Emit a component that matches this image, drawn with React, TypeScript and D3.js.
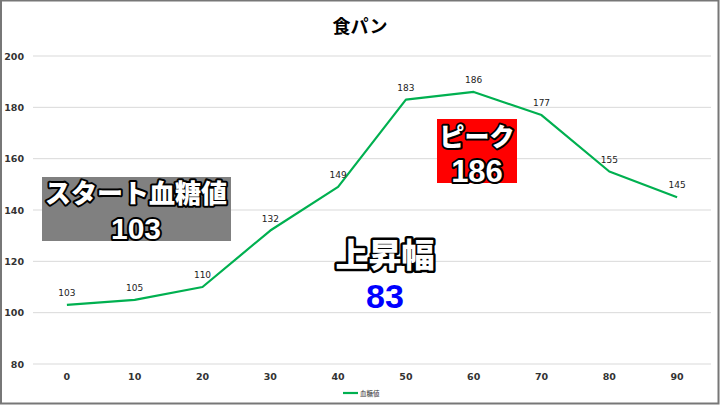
import React, { useEffect, useRef } from "react";
import * as d3 from "d3";

const minutes = [0, 10, 20, 30, 40, 50, 60, 70, 80, 90];
const glucose = [103, 105, 110, 132, 149, 183, 186, 177, 155, 145];
const yTicks = [80, 100, 120, 140, 160, 180, 200];
const chartTitle = "食パン";
const seriesName = "血糖値";

const W = 720;
const H = 405;
const JP = "'Noto Sans CJK JP', 'Noto Sans', sans-serif";
const NUM = "'DejaVu Sans', 'Noto Sans', sans-serif";
const BIG_NUM = "'Liberation Sans', Arial, sans-serif";

const App = () => {
  const svgRef = useRef<SVGSVGElement>(null);

  useEffect(() => {
    const svg = d3.select(svgRef.current);
    svg.selectAll("*").remove();

    const margin = { top: 56, right: 9, bottom: 41, left: 33 };
    const innerW = W - margin.left - margin.right;
    const innerH = H - margin.top - margin.bottom;

    svg.append("rect").attr("width", W).attr("height", H).attr("fill", "#fff");

    const x = d3.scalePoint<number>().domain(minutes).range([0, innerW]).padding(0.5);
    const y = d3.scaleLinear().domain([80, 200]).range([innerH, 0]);

    const g = svg.append("g").attr("transform", `translate(${margin.left},${margin.top})`);

    // gridlines
    g.selectAll(".grid")
      .data(yTicks)
      .enter()
      .append("line")
      .attr("x1", 0)
      .attr("x2", innerW)
      .attr("y1", (d) => y(d))
      .attr("y2", (d) => y(d))
      .attr("stroke", "#d9d9d9")
      .attr("stroke-width", 1);

    // y tick labels
    g.selectAll(".ylab")
      .data(yTicks)
      .enter()
      .append("text")
      .attr("x", -9)
      .attr("y", (d) => y(d) + 3.5)
      .attr("text-anchor", "end")
      .attr("font-family", NUM)
      .attr("font-size", 9.5)
      .attr("font-weight", "bold")
      .attr("fill", "#333")
      .text((d) => d);

    // x tick labels
    g.selectAll(".xlab")
      .data(minutes)
      .enter()
      .append("text")
      .attr("x", (d) => x(d)!)
      .attr("y", innerH + 16)
      .attr("text-anchor", "middle")
      .attr("font-family", NUM)
      .attr("font-size", 9.5)
      .attr("font-weight", "bold")
      .attr("fill", "#333")
      .text((d) => d);

    const line = d3
      .line<number>()
      .x((d, i) => x(minutes[i])!)
      .y((d) => y(d));

    g.append("path")
      .attr("d", line(glucose))
      .attr("fill", "none")
      .attr("stroke", "#00B050")
      .attr("stroke-width", 2.2)
      .attr("stroke-linejoin", "round");

    // data labels
    g.selectAll(".dlab")
      .data(glucose)
      .enter()
      .append("text")
      .attr("x", (d, i) => x(minutes[i])!)
      .attr("y", (d) => y(d) - 9)
      .attr("text-anchor", "middle")
      .attr("font-family", NUM)
      .attr("font-size", 9)
      .attr("fill", "#222")
      .text((d) => d);

    // title
    svg.append("text")
      .attr("x", W / 2)
      .attr("y", 33)
      .attr("text-anchor", "middle")
      .attr("font-family", JP)
      .attr("font-size", 18)
      .attr("font-weight", "bold")
      .attr("fill", "#000")
      .text(chartTitle);

    // legend
    const lx = 343;
    const ly = 393;
    svg.append("line")
      .attr("x1", lx).attr("x2", lx + 15)
      .attr("y1", ly).attr("y2", ly)
      .attr("stroke", "#00B050").attr("stroke-width", 2.2);
    svg.append("text")
      .attr("x", lx + 17).attr("y", ly + 2.5)
      .attr("font-family", JP).attr("font-size", 6.5)
      .attr("fill", "#333")
      .text(seriesName);

    const outlined = (
      cx: number, cy: number, txt: string, size: number, family: string,
      fill: string, outline: number, weight: string
    ) => {
      svg.append("text")
        .attr("x", cx)
        .attr("y", cy)
        .attr("text-anchor", "middle")
        .attr("font-family", family)
        .attr("font-size", size)
        .attr("font-weight", weight)
        .attr("fill", fill)
        .attr("stroke", outline ? "#000" : "none")
        .attr("stroke-width", outline)
        .attr("stroke-linejoin", "round")
        .attr("paint-order", "stroke")
        .text(txt);
    };

    // start annotation
    svg.append("rect").attr("x", 42).attr("y", 177).attr("width", 189).attr("height", 64).attr("fill", "#808080");
    outlined(136, 203, "スタート血糖値", 26, JP, "#fff", 4, "900");
    outlined(136, 239, String(glucose[0]), 30, BIG_NUM, "#fff", 4, "bold");

    // peak annotation
    const peak = d3.max(glucose)!;
    svg.append("rect").attr("x", 437).attr("y", 119).attr("width", 80).attr("height", 64).attr("fill", "#FF0000");
    outlined(477, 146, "ピーク", 25, JP, "#fff", 4, "900");
    outlined(477, 182, String(peak), 31, BIG_NUM, "#fff", 4, "bold");

    // rise
    outlined(385, 267, "上昇幅", 33, JP, "#fff", 5, "900");
    outlined(385, 308, String(peak - glucose[0]), 34, BIG_NUM, "#0000FF", 0, "bold");

    // frame
    svg.append("rect")
      .attr("x", 1).attr("y", 0.5).attr("width", W - 2.5).attr("height", H - 2)
      .attr("fill", "none").attr("stroke", "#777").attr("stroke-width", 2);
  }, []);

  return (
    <div style={{ position: "fixed", left: 0, top: 0 }}>
      <svg ref={svgRef} width={W} height={H} style={{ display: "block" }} />
    </div>
  );
};

export default App;
